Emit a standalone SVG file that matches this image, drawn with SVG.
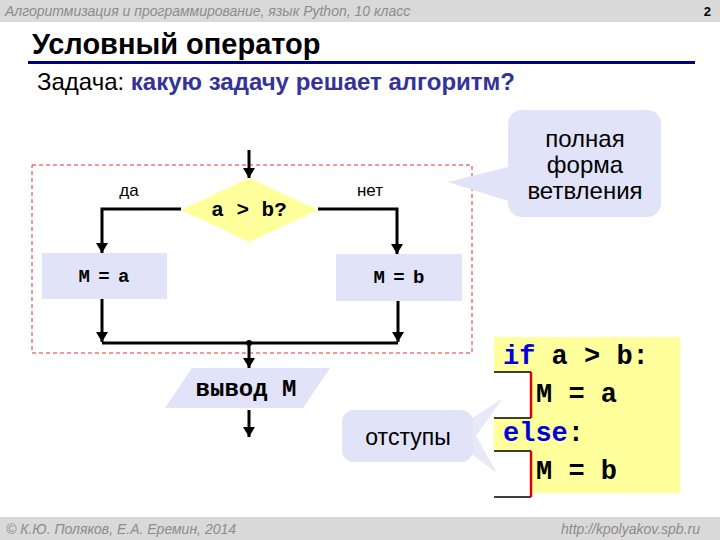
<svg xmlns="http://www.w3.org/2000/svg" width="720" height="540" viewBox="0 0 720 540">
<style>
.hdr{font-family:"Liberation Sans",Arial,sans-serif;font-style:italic;font-size:14px;fill:#8c8c8c}
.sans{font-family:"Liberation Sans",Arial,sans-serif}
.mono{font-family:"Liberation Mono","Courier New",monospace;font-weight:bold}
.box{fill:#e1e3f8}
.conn{fill:none;stroke:#000;stroke-width:3}
.code{font-family:"Liberation Mono","Courier New",monospace;font-weight:bold;font-size:27px;fill:#000}
.kw{fill:#0000dd}
</style>
<defs>
<marker id="ah" viewBox="0 0 10 12" refX="10" refY="6" markerWidth="10" markerHeight="12" markerUnits="userSpaceOnUse" orient="auto">
<path d="M0,0 L10,6 L0,12 Z" fill="#000"/>
</marker>
</defs>
<rect width="720" height="540" fill="#fff"/>
<g id="header">
<rect x="0" y="0" width="720" height="22" fill="#d9d9d9"/>
<text class="hdr" x="5" y="16">Алгоритмизация и программирование, язык Python, 10 класс</text>
<text class="sans" x="711" y="16" font-size="13" font-weight="bold" text-anchor="end">2</text>
</g>
<g id="title">
<text class="sans" x="32" y="54" font-size="29" font-weight="bold">Условный оператор</text>
<rect x="28" y="61" width="667" height="3" fill="#000080"/>
<text class="sans" x="37" y="90" font-size="24">Задача: <tspan font-weight="bold" fill="#333399">какую задачу решает алгоритм?</tspan></text>
</g>
<g id="footer">
<rect x="0" y="517" width="720" height="23" fill="#d9d9d9"/>
<text class="hdr" x="6" y="534">© К.Ю. Поляков, Е.А. Еремин, 2014</text>
<text class="hdr" x="700" y="534" text-anchor="end">http://kpolyakov.spb.ru</text>
</g>
<rect x="32" y="165" width="440" height="188" fill="none" stroke="#e03030" stroke-width="1" stroke-dasharray="4,3"/>
<g id="cond">
<polygon points="249,178 318,210 249,242 181,210" fill="#ffff9c"/>
<text class="mono" x="249" y="216" font-size="21" font-weight="normal" text-anchor="middle">a &gt; b?</text>
</g>
<g id="ma">
<rect class="box" x="42" y="253" width="125" height="46"/>
<text class="mono" x="104" y="282" font-size="19" word-spacing="-3" text-anchor="middle">M = a</text>
</g>
<g id="mb">
<rect class="box" x="336" y="254" width="126" height="47"/>
<text class="mono" x="399" y="283" font-size="19" word-spacing="-3" text-anchor="middle">M = b</text>
</g>
<g id="out">
<polygon points="192,368 330,368 303,408 165,408" fill="#e1e3f8"/>
<text class="mono" x="246" y="396" font-size="24" text-anchor="middle">вывод M</text>
</g>
<g id="labels">
<text class="sans" x="129" y="196" font-size="17" text-anchor="middle">да</text>
<text class="sans" x="370" y="196" font-size="17" text-anchor="middle">нет</text>
</g>
<g id="connectors">
<path class="conn" d="M249,150 V178" marker-end="url(#ah)"/>
<path class="conn" d="M181,209 H102 V253" marker-end="url(#ah)"/>
<path class="conn" d="M318,209 H397 V254" marker-end="url(#ah)"/>
<path class="conn" d="M102,299 V342" marker-end="url(#ah)"/>
<path class="conn" d="M398,301 V342" marker-end="url(#ah)"/>
<path class="conn" d="M102,343 H398" stroke-width="2.5"/>
<circle cx="249" cy="343" r="3" fill="#000"/>
<path class="conn" d="M249,343 V368" marker-end="url(#ah)"/>
<path class="conn" d="M249,410 V437" marker-end="url(#ah)"/>
</g>
<g id="callout1">
<polygon points="448,182 512,166 512,202" fill="#e1e3f8"/>
<rect x="508" y="110" width="153" height="107" rx="14" fill="#e1e3f8"/>
<text class="sans" x="585" y="147" font-size="24" text-anchor="middle">полная</text>
<text class="sans" x="585" y="173" font-size="24" text-anchor="middle">форма</text>
<text class="sans" x="585" y="199" font-size="24" text-anchor="middle">ветвления</text>
</g>
<g id="code">
<rect x="494" y="337" width="186" height="156" fill="#ffff9c"/>
<g>
<rect x="494" y="372" width="37" height="46" fill="#fff"/>
<path d="M494,372 H531 M494,418 H531" stroke="#000" stroke-width="1.5"/>
<path d="M531,372 V418" stroke="#e00000" stroke-width="2.5"/>
<rect x="494" y="451" width="37" height="46" fill="#fff"/>
<path d="M494,451 H531 M494,497 H531" stroke="#000" stroke-width="1.5"/>
<path d="M531,451 V497" stroke="#e00000" stroke-width="2.5"/>
</g>
<text class="code" x="503" y="364"><tspan class="kw">if</tspan> a &gt; b:</text>
<text class="code" x="536" y="402">M = a</text>
<text class="code" x="503" y="441"><tspan class="kw">else</tspan>:</text>
<text class="code" x="536" y="479">M = b</text>
</g>
<g id="callout2">
<polygon points="466,422 503,398 476,436 497,473 466,450" fill="#e1e3f8" opacity="0.8"/>
<rect x="342" y="410" width="131" height="52" rx="12" fill="#e1e3f8"/>
<text class="sans" x="408" y="445" font-size="23" text-anchor="middle">отступы</text>
</g>
</svg>
